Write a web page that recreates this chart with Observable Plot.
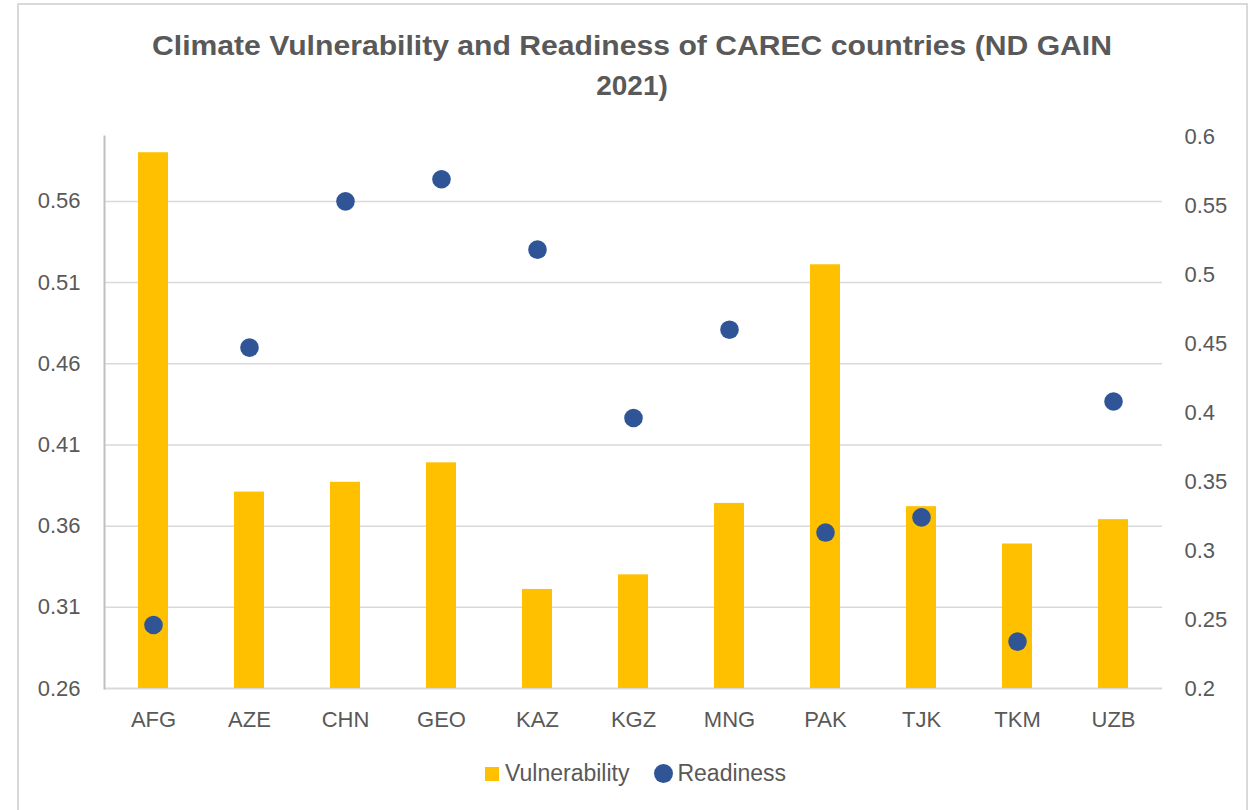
<!DOCTYPE html>
<html>
<head>
<meta charset="utf-8">
<script src="https://cdn.jsdelivr.net/npm/d3@7"></script>
<script src="https://cdn.jsdelivr.net/npm/@observablehq/plot@0.6"></script>
<style>
html,body{margin:0;padding:0;background:#fff;overflow:hidden}
#wrap{position:relative;width:1250px;height:810px;overflow:hidden;font-family:"Liberation Sans",Arial,sans-serif;color:#595959;background:#fff}
#frame{position:absolute;left:17px;top:3px;width:1231px;height:840px;border:2px solid #D9D9D9;box-sizing:border-box}
#chart{position:absolute;left:0;top:0}
#title{position:absolute;left:0;top:0}
#legend{position:absolute;left:485px;top:760px;display:flex;align-items:center;font-size:23px;color:#595959;white-space:nowrap}
#legend .sw{display:inline-block}
</style>
</head>
<body>
<div id="wrap">
  <div id="frame"></div>
  <div id="chart"></div>
  <svg id="title" width="1250" height="110">
    <text x="632" y="55" text-anchor="middle" textLength="960" lengthAdjust="spacingAndGlyphs" font-family="Liberation Sans, Arial, sans-serif" font-weight="bold" font-size="28" fill="#595959">Climate Vulnerability and Readiness of CAREC countries (ND GAIN</text>
    <text x="632" y="95" text-anchor="middle" font-family="Liberation Sans, Arial, sans-serif" font-weight="bold" font-size="28" fill="#595959">2021)</text>
  </svg>
  <div id="legend"></div>
</div>
<script>
// ---- data ----
const categories = ["AFG","AZE","CHN","GEO","KAZ","KGZ","MNG","PAK","TJK","TKM","UZB"];
const vulnerability = [0.590,0.381,0.387,0.399,0.321,0.330,0.374,0.521,0.372,0.349,0.364];
const readiness = [0.246,0.447,0.553,0.569,0.518,0.396,0.460,0.313,0.324,0.234,0.408];
const leftTicks = [0.26,0.31,0.36,0.41,0.46,0.51,0.56];
const rightTicks = [0.2,0.25,0.3,0.35,0.4,0.45,0.5,0.55,0.6];
const leftDomain = [0.26,0.60];
const rightDomain = [0.2,0.6];
const seriesNames = ["Vulnerability","Readiness"];
const colors = ["#FFC000","#2F5597"];

// map right-axis values onto the left scale
const k = (leftDomain[1]-leftDomain[0])/(rightDomain[1]-rightDomain[0]);
const toLeft = r => leftDomain[0] + (r - rightDomain[0]) * k;
const toRight = l => rightDomain[0] + (l - leftDomain[0]) / k;

const rows = categories.map((c,i)=>({country:c, vulnerability:vulnerability[i], readiness:readiness[i], readinessL:toLeft(readiness[i])}));

const font = "Liberation Sans, Arial, sans-serif";
const plot = Plot.plot({
  width:1250, height:810,
  marginLeft:104, marginRight:88, marginTop:136, marginBottom:122,
  style:{fontFamily:font, fontSize:"22px", color:"#595959", background:"transparent", overflow:"visible"},
  x:{domain:categories, paddingInner:0.69, paddingOuter:0.345, label:null},
  y:{domain:leftDomain, label:null},
  marks:[
    Plot.ruleY(leftTicks.slice(1), {stroke:"#D9D9D9", strokeWidth:1.5}),
    Plot.ruleY([leftDomain[0]], {stroke:"#D9D9D9", strokeWidth:2}),
    Plot.barY(rows, {x:"country", y1:leftDomain[0], y2:"vulnerability", fill:colors[0]}),
    Plot.dot(rows, {x:"country", y:"readinessL", r:9.3, fill:colors[1], stroke:"none"}),
    Plot.frame({anchor:"left", stroke:"#BFBFBF", strokeWidth:2}),
    Plot.axisY({ticks:leftTicks, anchor:"left", tickSize:0, tickPadding:24, tickFormat:d=>d.toFixed(2), fill:"#595959"}),
    Plot.axisY({ticks:rightTicks.map(toLeft), anchor:"right", tickSize:0, tickPadding:22, tickFormat:d=>String(+toRight(d).toFixed(2)), fill:"#595959"}),
    Plot.axisX({tickSize:0, tickPadding:23, fill:"#595959"})
  ]
});
document.getElementById("chart").appendChild(plot);

// legend
const lg = document.getElementById("legend");
seriesNames.forEach((name,i)=>{
  const sw = document.createElement("span");
  sw.className = "sw";
  if(i===0){ sw.style.cssText = `width:14px;height:14px;background:${colors[0]};margin-right:6px`; }
  else { sw.style.cssText = `width:19px;height:19px;border-radius:50%;background:${colors[1]};margin-left:25px;margin-right:4px`; }
  const t = document.createElement("span");
  t.textContent = name;
  lg.appendChild(sw); lg.appendChild(t);
});
</script>
</body>
</html>
